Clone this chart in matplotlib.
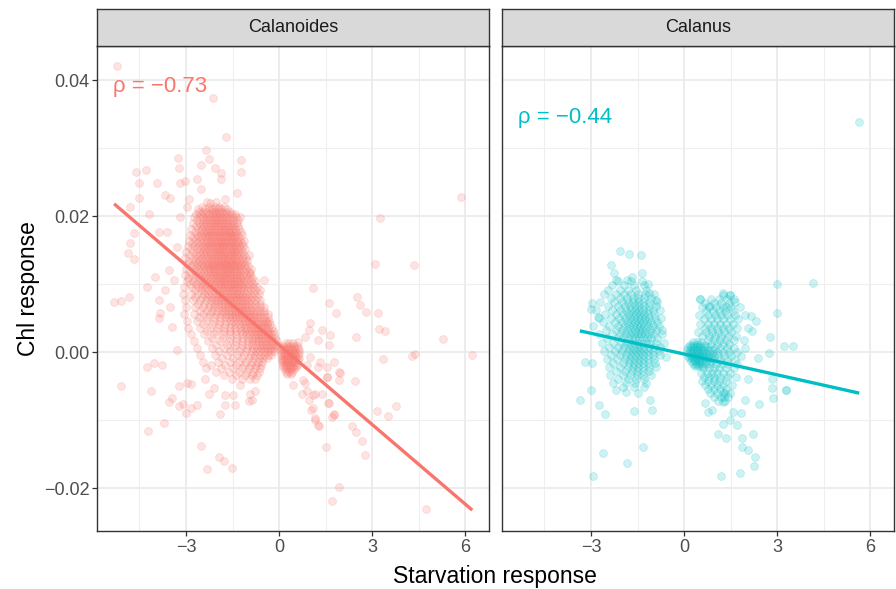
import numpy as np
import matplotlib
matplotlib.use("Agg")
import matplotlib.pyplot as plt

plt.rcParams["font.family"] = ["Liberation Sans", "DejaVu Sans"]

# ---- data: starvation response (x) vs Chl response in units of 1e-3 (y) ----
species = ["Calanoides", "Calanus"]
colors = ["#F8766D", "#00BFC4"]
rho_labels = ["\u03c1 = \u22120.73", "\u03c1 = \u22120.44"]
# linear fit, slope and intercept in Chl units of 1e-3
calanoides_fit = (-3.899, 1.06)
calanus_fit = (-1.017, -0.287)

x_ticks = [-3, 0, 3, 6]
x_ticklabels = ["\u22123", "0", "3", "6"]
y_ticks = [-0.02, 0.0, 0.02, 0.04]
y_ticklabels = ["\u22120.02", "0.00", "0.02", "0.04"]

# Calanoides: scattered single observations (x, chl*1e3)
calanoides_scatter = [
    (-5.23, 42.0), (-2.14, 37.4), (-1.71, 31.6), (-2.35, 29.7), (-3.27, 28.5), (-2.26, 28.4),
    (-2.52, 27.5), (-1.23, 28.2), (-3.24, 27.1), (-2.06, 27.0), (-1.87, 26.4), (-1.23, 26.5),
    (-4.61, 26.5), (-4.30, 26.8), (-4.52, 24.9), (-3.94, 24.8), (-3.19, 24.8), (-3.03, 25.1),
    (-2.65, 25.4), (-1.87, 25.4), (-2.52, 24.0), (-1.35, 23.4), (-3.68, 23.1), (-3.52, 22.6),
    (-4.52, 22.6), (-2.90, 22.5), (-2.32, 22.1), (-2.03, 22.1), (-1.74, 22.5),
    (-4.81, 21.3), (-4.19, 20.3), (-4.68, 17.5), (-4.81, 16.0), (-4.87, 14.5), (-4.68, 13.7),
    (-3.87, 17.6), (-3.61, 17.6), (-4.00, 11.0), (-4.26, 9.6), (-5.32, 7.4), (-5.10, 7.5),
    (-4.84, 8.1), (-3.87, 7.6), (-3.84, 5.7), (-3.87, 5.0), (-4.26, -2.2), (-4.03, -1.6),
    (-3.77, -1.9), (-3.29, 0.3), (-3.45, 3.7), (-3.52, 6.6), (-3.55, 12.1), (-3.39, 10.6),
    (-3.68, 9.1), (-3.29, 15.4), (-3.19, 19.9), (-2.97, 21.3), (-2.23, 21.9), (-1.26, 19.9),
    (-0.48, 10.6), (-0.61, 9.1), (-0.39, 4.4), (-0.94, 11.6),
    (-5.10, -5.0), (-4.13, -5.7), (-4.23, -11.6), (-3.71, -10.4), (-3.55, -7.3), (-3.45, -6.8),
    (-3.23, -7.9), (-3.10, -7.6), (-3.00, -8.9), (-2.84, -8.2), (-2.65, -7.8), (-3.23, -5.0),
    (-2.97, -4.6), (-2.84, -4.7), (-2.39, -4.0), (-2.26, -6.2), (-2.10, -5.3), (-1.90, -9.1),
    (-1.74, -7.8), (-1.74, -6.3), (-1.42, -7.8), (-1.48, -6.3), (-1.26, -4.9), (-0.97, -7.2),
    (-0.87, -7.1), (-0.94, -6.1), (-0.77, -5.7), (-2.52, -13.8), (-1.94, -15.4), (-1.77, -16.0),
    (-2.32, -17.2), (-1.52, -17.0),
    (1.52, -14.0), (1.71, -21.9), (1.94, -19.9), (0.97, -7.1), (1.16, -10.0), (1.29, -10.9),
    (1.03, -8.5), (1.58, -7.5), (1.71, -9.5), (1.77, -9.1), (0.74, -6.1), (1.16, -6.2),
    (1.39, -6.1), (0.84, -4.6), (1.55, -3.7), (1.97, -3.1),
    (1.10, 9.4), (1.61, 7.2), (1.84, 5.7), (2.52, 8.1), (2.61, 6.9), (2.81, 5.9), (3.19, 5.7),
    (3.23, 3.4), (3.42, 3.1), (2.48, 2.2), (5.29, 1.9), (6.23, -0.4), (4.29, -0.6), (4.39, -0.3),
    (3.35, -1.0), (2.45, -4.2), (1.00, 4.3), (0.97, 3.2), (1.65, 2.5), (1.39, 3.2), (1.26, 1.8),
    (1.61, 1.0), (0.84, 2.2), (0.61, 1.5), (1.77, -1.5), (1.94, -2.9), (1.94, -4.1), (1.55, -2.2),
    (1.55, -3.7), (1.32, -1.5), (1.26, -2.2), (1.00, -0.7), (0.90, -1.9), (0.77, -4.1),
    (0.90, -5.7), (1.10, -6.3), (1.10, -8.2), (1.26, -10.7), (1.16, -9.7), (1.61, -7.5),
    (1.77, -9.3), (2.35, -10.9), (2.48, -11.8), (2.68, -13.1), (2.77, -15.1), (3.16, -8.7),
    (3.52, -9.4), (3.77, -7.9), (4.74, -23.1), (0.45, -4.9),
    (3.26, 19.7), (4.35, 12.8), (5.87, 22.8), (3.10, 13.0),
]

# Calanoides: dense main cloud, rows of (chl*1e3, [starvation values])
calanoides_core_rows = [
    (21.4, [-2.47, -2.26, -2.08, -1.93, -1.79]),
    (21.05, [-2.61, -2.39, -2.21, -2.12, -1.98, -1.86, -1.69]),
    (20.6, [-2.58, -2.44, -2.31, -2.17, -2.06, -1.95, -1.83, -1.72, -1.57]),
    (20.25, [-2.69, -2.52, -2.38, -2.27, -2.13, -2.02, -1.91, -1.78, -1.66, -1.53, -1.41]),
    (19.8, [-2.74, -2.57, -2.46, -2.33, -2.22, -2.11, -2.03, -1.94, -1.85, -1.74, -1.63, -1.51, -1.38]),
    (19.4, [-2.63, -2.49, -2.37, -2.28, -2.18, -2.07, -1.99, -1.89, -1.81, -1.71, -1.6, -1.47, -1.33]),
    (18.95, [-2.78, -2.59, -2.44, -2.34, -2.24, -2.14, -2.05, -1.96, -1.87, -1.77, -1.68, -1.58, -1.49, -1.37]),
    (18.55, [-2.68, -2.53, -2.41, -2.3, -2.2, -2.1, -2.01, -1.92, -1.83, -1.73, -1.64, -1.55, -1.44, -1.31]),
    (18.1, [-2.83, -2.62, -2.48, -2.36, -2.26, -2.16, -2.06, -1.97, -1.88, -1.79, -1.7, -1.61, -1.52, -1.42, -1.28]),
    (17.7, [-2.72, -2.56, -2.43, -2.32, -2.22, -2.12, -2.03, -1.93, -1.84, -1.75, -1.66, -1.57, -1.48, -1.38, -1.24]),
    (17.25, [-2.86, -2.66, -2.51, -2.39, -2.29, -2.19, -2.09, -1.99, -1.9, -1.81, -1.72, -1.63, -1.54, -1.45, -1.34, -1.21]),
    (16.85, [-2.76, -2.6, -2.47, -2.35, -2.25, -2.15, -2.05, -1.95, -1.86, -1.77, -1.68, -1.59, -1.5, -1.41, -1.3]),
    (16.4, [-2.91, -2.7, -2.54, -2.42, -2.31, -2.21, -2.11, -2.01, -1.92, -1.83, -1.74, -1.65, -1.56, -1.47, -1.37, -1.25, -1.12]),
    (16.0, [-2.8, -2.63, -2.49, -2.37, -2.27, -2.17, -2.07, -1.97, -1.88, -1.79, -1.7, -1.61, -1.52, -1.43, -1.33, -1.2]),
    (15.55, [-2.95, -2.73, -2.57, -2.45, -2.33, -2.23, -2.13, -2.03, -1.94, -1.85, -1.76, -1.67, -1.58, -1.49, -1.4, -1.29, -1.16]),
    (15.15, [-2.84, -2.66, -2.52, -2.4, -2.28, -2.18, -2.08, -1.98, -1.89, -1.8, -1.71, -1.62, -1.53, -1.44, -1.35, -1.23, -1.09]),
    (14.7, [-2.99, -2.76, -2.59, -2.46, -2.35, -2.24, -2.14, -2.04, -1.95, -1.86, -1.77, -1.68, -1.59, -1.5, -1.41, -1.31, -1.18]),
    (14.3, [-2.87, -2.69, -2.55, -2.43, -2.31, -2.2, -2.1, -2.0, -1.91, -1.82, -1.73, -1.64, -1.55, -1.46, -1.36, -1.26, -1.13, -0.98]),
    (13.85, [-3.02, -2.79, -2.62, -2.48, -2.36, -2.25, -2.15, -2.05, -1.96, -1.87, -1.78, -1.69, -1.6, -1.51, -1.42, -1.32, -1.21, -1.07]),
    (13.45, [-2.9, -2.72, -2.57, -2.44, -2.32, -2.21, -2.11, -2.01, -1.92, -1.83, -1.74, -1.65, -1.56, -1.47, -1.38, -1.28, -1.16, -1.02]),
    (13.0, [-2.97, -2.77, -2.61, -2.49, -2.37, -2.26, -2.16, -2.06, -1.97, -1.88, -1.79, -1.7, -1.61, -1.52, -1.43, -1.33, -1.23, -1.1]),
    (12.6, [-2.85, -2.67, -2.53, -2.41, -2.29, -2.19, -2.09, -1.99, -1.9, -1.81, -1.72, -1.63, -1.54, -1.45, -1.36, -1.26, -1.14, -0.99]),
    (12.15, [-3.0, -2.75, -2.58, -2.45, -2.33, -2.22, -2.12, -2.02, -1.93, -1.84, -1.75, -1.66, -1.57, -1.48, -1.39, -1.29, -1.19, -1.06, -0.92]),
    (11.75, [-2.88, -2.7, -2.55, -2.42, -2.3, -2.19, -2.09, -1.99, -1.9, -1.81, -1.72, -1.63, -1.54, -1.45, -1.35, -1.25, -1.12, -0.97]),
    (11.3, [-3.04, -2.8, -2.62, -2.47, -2.35, -2.24, -2.14, -2.04, -1.94, -1.85, -1.76, -1.67, -1.58, -1.49, -1.4, -1.3, -1.2, -1.08, -0.94]),
    (10.9, [-2.92, -2.72, -2.56, -2.43, -2.31, -2.2, -2.1, -2.0, -1.9, -1.81, -1.72, -1.63, -1.54, -1.45, -1.36, -1.26, -1.15, -1.01, -0.86]),
    (10.45, [-2.98, -2.77, -2.6, -2.46, -2.34, -2.22, -2.11, -2.01, -1.91, -1.82, -1.73, -1.64, -1.55, -1.46, -1.37, -1.27, -1.17, -1.05, -0.91, -0.77]),
    (10.05, [-2.86, -2.68, -2.52, -2.39, -2.27, -2.16, -2.05, -1.95, -1.86, -1.77, -1.68, -1.59, -1.5, -1.41, -1.32, -1.22, -1.11, -0.98, -0.83]),
    (9.6, [-3.06, -2.81, -2.62, -2.47, -2.34, -2.21, -2.09, -1.98, -1.88, -1.78, -1.69, -1.6, -1.51, -1.42, -1.33, -1.23, -1.12, -0.99, -0.85, -0.7]),
    (9.1, [-2.7, -2.52, -2.38, -2.25, -2.12, -2.0, -1.9, -1.8, -1.71, -1.62, -1.53, -1.44, -1.35, -1.26, -1.16, -1.04, -0.9, -0.76]),
    (8.6, [-3.1, -2.83, -2.6, -2.43, -2.29, -2.16, -2.04, -1.93, -1.83, -1.73, -1.64, -1.55, -1.46, -1.37, -1.28, -1.19, -1.08, -0.95, -0.81, -0.64]),
    (8.1, [-2.71, -2.5, -2.33, -2.19, -2.06, -1.95, -1.85, -1.75, -1.66, -1.57, -1.48, -1.39, -1.3, -1.21, -1.11, -0.99, -0.86, -0.71]),
    (7.6, [-3.03, -2.77, -2.55, -2.37, -2.21, -2.08, -1.96, -1.86, -1.76, -1.67, -1.58, -1.49, -1.4, -1.31, -1.22, -1.13, -1.02, -0.9, -0.76, -0.6]),
    (7.1, [-2.62, -2.41, -2.24, -2.09, -1.96, -1.85, -1.75, -1.65, -1.56, -1.47, -1.38, -1.29, -1.2, -1.11, -1.01, -0.9, -0.77, -0.63]),
    (6.6, [-2.99, -2.7, -2.46, -2.27, -2.11, -1.97, -1.85, -1.74, -1.64, -1.54, -1.45, -1.36, -1.27, -1.18, -1.09, -0.99, -0.88, -0.75, -0.6, -0.47]),
    (6.1, [-2.55, -2.33, -2.15, -1.99, -1.85, -1.73, -1.62, -1.52, -1.42, -1.33, -1.24, -1.15, -1.06, -0.96, -0.86, -0.74, -0.61, -0.48]),
    (5.6, [-3.08, -2.74, -2.46, -2.23, -2.04, -1.88, -1.74, -1.62, -1.51, -1.41, -1.31, -1.22, -1.13, -1.04, -0.95, -0.85, -0.74, -0.62, -0.49, -0.37]),
    (5.1, [-2.58, -2.31, -2.09, -1.91, -1.75, -1.61, -1.49, -1.38, -1.28, -1.18, -1.09, -1.0, -0.91, -0.82, -0.72, -0.61, -0.49, -0.36]),
    (4.6, [-2.97, -2.63, -2.34, -2.1, -1.9, -1.72, -1.57, -1.44, -1.32, -1.21, -1.11, -1.01, -0.92, -0.83, -0.74, -0.65, -0.55, -0.44, -0.32]),
    (4.1, [-2.44, -2.16, -1.93, -1.73, -1.56, -1.41, -1.28, -1.16, -1.05, -0.95, -0.86, -0.77, -0.68, -0.59, -0.5, -0.4, -0.29]),
    (3.6, [-2.92, -2.55, -2.24, -1.98, -1.76, -1.57, -1.41, -1.27, -1.14, -1.02, -0.91, -0.81, -0.72, -0.63, -0.54, -0.45, -0.35, -0.24]),
    (3.1, [-2.31, -2.02, -1.78, -1.57, -1.39, -1.23, -1.09, -0.97, -0.86, -0.76, -0.67, -0.58, -0.49, -0.4, -0.31, -0.21]),
    (2.6, [-2.84, -2.43, -2.09, -1.81, -1.58, -1.38, -1.21, -1.06, -0.93, -0.82, -0.72, -0.63, -0.54, -0.45, -0.36, -0.27, -0.17]),
    (2.1, [-2.15, -1.83, -1.57, -1.35, -1.17, -1.01, -0.88, -0.77, -0.67, -0.58, -0.49, -0.4, -0.31, -0.22, -0.12]),
    (1.6, [-2.73, -2.28, -1.92, -1.62, -1.38, -1.18, -1.01, -0.87, -0.75, -0.64, -0.54, -0.45, -0.36, -0.27, -0.18, -0.08]),
    (1.1, [-2.03, -1.68, -1.41, -1.19, -1.01, -0.86, -0.73, -0.62, -0.52, -0.42, -0.33, -0.24, -0.14, -0.04]),
    (0.6, [-2.64, -2.16, -1.77, -1.47, -1.22, -1.02, -0.85, -0.71, -0.59, -0.48, -0.38, -0.28, -0.18, -0.08]),
    (0.1, [-1.93, -1.57, -1.29, -1.06, -0.88, -0.73, -0.6, -0.48, -0.37, -0.26, -0.15]),
    (-0.4, [-2.55, -2.06, -1.68, -1.37, -1.12, -0.92, -0.76, -0.62, -0.49, -0.37, -0.25]),
    (-0.9, [-1.83, -1.48, -1.2, -0.98, -0.8, -0.65, -0.51, -0.38]),
    (-1.4, [-2.46, -1.97, -1.59, -1.29, -1.05, -0.86, -0.69, -0.54]),
    (-1.9, [-2.18, -1.74, -1.4, -1.13, -0.92, -0.74, -0.58]),
    (-2.4, [-2.34, -1.86, -1.5, -1.21, -0.98, -0.79, -0.62]),
    (-2.9, [-2.02, -1.6, -1.28, -1.03, -0.83, -0.66]),
    (-3.4, [-1.76, -1.38, -1.1, -0.88, -0.7]),
    (-3.9, [-1.52, -1.19, -0.95, -0.76]),
]

# Calanoides: tight patch just right of zero
calanoides_patch_rows = [
    (1.3, [0.22, 0.33, 0.44]),
    (0.95, [0.14, 0.25, 0.36, 0.47, 0.59]),
    (0.6, [0.09, 0.19, 0.29, 0.39, 0.49, 0.6]),
    (0.25, [0.07, 0.16, 0.25, 0.34, 0.43, 0.52, 0.63]),
    (-0.1, [0.08, 0.17, 0.26, 0.35, 0.44, 0.53, 0.64]),
    (-0.45, [0.07, 0.16, 0.25, 0.34, 0.43, 0.52, 0.62]),
    (-0.8, [0.09, 0.18, 0.27, 0.36, 0.45, 0.54, 0.65]),
    (-1.15, [0.08, 0.17, 0.26, 0.35, 0.44, 0.53, 0.62]),
    (-1.5, [0.1, 0.19, 0.28, 0.37, 0.46, 0.56]),
    (-1.85, [0.12, 0.21, 0.3, 0.39, 0.48, 0.58]),
    (-2.2, [0.14, 0.24, 0.34, 0.44, 0.54]),
    (-2.55, [0.18, 0.28, 0.38, 0.48]),
    (-2.9, [0.22, 0.32, 0.42]),
    (-3.25, [0.27, 0.37]),
]

# Calanus: scattered single observations
calanus_scatter = [
    (5.65, 33.8), (4.17, 10.1), (2.99, 10.0), (2.99, 5.8),
    (-2.07, 14.9), (-1.77, 14.4), (-1.40, 14.3), (-2.37, 12.8), (-2.26, 11.7), (-2.20, 10.6),
    (-1.37, 11.7), (-1.85, 10.6), (-1.69, 11.0), (-1.17, 10.0), (-2.97, 7.2), (-3.01, 6.3),
    (-2.77, 5.2), (-3.19, -1.4), (-2.97, -1.6), (-3.36, -7.1), (-3.01, -5.6), (-2.74, -7.8),
    (-2.55, -9.1), (-2.61, -14.9), (-1.85, -16.3), (-2.94, -18.2), (-1.32, -13.9), (-1.60, -8.6),
    (-1.02, -8.5), (-1.10, -7.1), (-2.20, -5.6), (-1.88, -5.8), (-1.47, -6.0), (-0.71, 3.2),
    (-0.59, -0.7), (-0.90, 7.6), (-1.13, 8.7),
    (0.52, 7.8), (1.26, 8.7), (1.48, 8.4), (1.63, 7.3), (0.81, 6.8), (1.34, 6.6), (2.15, 5.3),
    (2.31, 4.5), (2.19, 3.1), (2.77, 2.2), (3.23, 0.9), (3.52, 0.9), (2.74, -0.1), (2.40, -0.8),
    (2.83, -4.0), (3.30, -5.6), (2.87, -6.8), (2.42, -7.6), (2.07, -4.0), (1.96, -7.1),
    (1.88, -12.7), (2.23, -12.0), (2.07, -14.4), (1.86, -14.0), (2.29, -15.4), (2.26, -16.7),
    (1.81, -17.8), (1.18, -18.2), (1.34, -12.7), (1.11, -12.0), (1.48, -10.0), (1.24, -10.5),
    (1.72, -10.7), (0.77, -8.8), (0.67, -7.5), (0.91, -8.5), (1.24, -7.3), (1.59, -8.8),
    (1.83, -9.0), (2.85, -5.3), (3.28, -5.5),
]

# Calanus: cloud left of zero
calanus_core_rows = [
    (10.4, [-2.12, -1.71, -1.36]),
    (9.8, [-2.31, -1.95, -1.62, -1.29]),
    (9.2, [-2.44, -2.08, -1.82, -1.55, -1.22]),
    (8.6, [-2.58, -2.2, -1.93, -1.71, -1.49, -1.25, -0.98]),
    (8.0, [-2.36, -2.05, -1.84, -1.66, -1.48, -1.3, -1.06]),
    (7.4, [-2.7, -2.27, -2.0, -1.8, -1.63, -1.47, -1.31, -1.13, -0.88]),
    (6.8, [-2.46, -2.12, -1.9, -1.73, -1.58, -1.44, -1.29, -1.12, -0.92]),
    (6.2, [-2.83, -2.33, -2.05, -1.86, -1.71, -1.57, -1.44, -1.31, -1.17, -1.0, -0.78]),
    (5.6, [-2.56, -2.2, -1.98, -1.81, -1.67, -1.54, -1.42, -1.29, -1.15, -0.97]),
    (5.0, [-2.75, -2.35, -2.09, -1.9, -1.75, -1.62, -1.5, -1.38, -1.26, -1.12, -0.95, -0.74]),
    (4.4, [-2.6, -2.24, -2.01, -1.84, -1.7, -1.57, -1.45, -1.33, -1.2, -1.05, -0.86]),
    (3.8, [-2.92, -2.42, -2.13, -1.93, -1.78, -1.65, -1.53, -1.41, -1.29, -1.16, -1.01, -0.81]),
    (3.2, [-2.51, -2.2, -1.99, -1.83, -1.7, -1.58, -1.46, -1.34, -1.22, -1.08, -0.9]),
    (2.6, [-2.74, -2.33, -2.07, -1.89, -1.75, -1.62, -1.5, -1.38, -1.26, -1.13, -0.97, -0.72]),
    (2.0, [-2.47, -2.17, -1.97, -1.82, -1.69, -1.57, -1.45, -1.33, -1.2, -1.05, -0.86]),
    (1.4, [-2.65, -2.28, -2.04, -1.87, -1.73, -1.6, -1.48, -1.36, -1.23, -1.09, -0.92, -0.66]),
    (0.8, [-2.41, -2.13, -1.94, -1.79, -1.66, -1.53, -1.41, -1.28, -1.14, -0.98, -0.78]),
    (0.2, [-2.58, -2.22, -1.99, -1.82, -1.68, -1.55, -1.42, -1.29, -1.15, -0.99, -0.8]),
    (-0.4, [-2.37, -2.07, -1.87, -1.72, -1.58, -1.45, -1.31, -1.16, -0.99, -0.79]),
    (-1.0, [-2.5, -2.15, -1.92, -1.75, -1.6, -1.46, -1.31, -1.15, -0.96]),
    (-1.6, [-2.28, -1.98, -1.78, -1.62, -1.47, -1.32, -1.15, -0.95]),
    (-2.2, [-2.43, -2.05, -1.82, -1.64, -1.48, -1.31, -1.12, -0.9]),
    (-2.8, [-2.2, -1.9, -1.69, -1.51, -1.33, -1.13]),
    (-3.4, [-2.38, -1.98, -1.73, -1.52, -1.31, -1.06]),
    (-4.0, [-2.12, -1.8, -1.55, -1.3]),
    (-4.6, [-2.3, -1.87, -1.57, -1.22]),
    (-5.2, [-1.98, -1.6, -1.28]),
]

# Calanus: dense patch right of zero
calanus_patch_rows = [
    (1.5, [0.28, 0.42, 0.56]),
    (1.1, [0.18, 0.3, 0.41, 0.53, 0.66]),
    (0.7, [0.12, 0.22, 0.32, 0.42, 0.52, 0.63, 0.76]),
    (0.3, [0.1, 0.19, 0.28, 0.37, 0.46, 0.55, 0.65, 0.77, 0.9]),
    (-0.1, [0.12, 0.21, 0.3, 0.39, 0.48, 0.57, 0.67, 0.79, 0.93]),
    (-0.5, [0.14, 0.23, 0.32, 0.41, 0.5, 0.59, 0.69, 0.81, 0.96]),
    (-0.9, [0.17, 0.26, 0.35, 0.44, 0.53, 0.63, 0.74, 0.87]),
    (-1.3, [0.22, 0.31, 0.4, 0.49, 0.59, 0.7, 0.83]),
    (-1.7, [0.28, 0.38, 0.48, 0.58, 0.7]),
    (-2.1, [0.35, 0.46, 0.58]),
]

# Calanus: looser cloud around that patch
calanus_cloud_rows = [
    (8.4, [1.24, 1.49]),
    (7.8, [0.52, 0.88, 1.13, 1.37, 1.62]),
    (7.2, [0.68, 0.97, 1.2, 1.44]),
    (6.6, [0.57, 0.82, 1.04, 1.25, 1.5, 1.79]),
    (6.0, [0.72, 0.93, 1.12, 1.33, 1.58]),
    (5.4, [0.49, 0.78, 0.99, 1.18, 1.38, 1.63, 1.95]),
    (4.8, [0.64, 0.87, 1.06, 1.25, 1.47, 1.74]),
    (4.2, [0.53, 0.78, 0.97, 1.15, 1.34, 1.57]),
    (3.6, [0.67, 0.88, 1.06, 1.24, 1.45, 1.71, 2.05]),
    (3.0, [0.44, 0.7, 0.91, 1.09, 1.28, 1.5]),
    (2.4, [0.58, 0.81, 1.0, 1.19, 1.41, 1.68]),
    (1.8, [0.78, 0.97, 1.15, 1.35, 1.6, 1.93]),
    (1.2, [0.86, 1.05, 1.24, 1.46]),
    (0.6, [0.99, 1.17, 1.37, 1.62, 1.98]),
    (0.0, [1.06, 1.25, 1.46, 1.72]),
    (-0.6, [1.09, 1.29, 1.52, 1.85]),
    (-1.2, [0.98, 1.17, 1.38, 1.64]),
    (-1.8, [0.85, 1.03, 1.21, 1.43, 1.72]),
    (-2.4, [0.62, 0.8, 0.97, 1.14, 1.34, 1.6]),
    (-3.0, [0.55, 0.74, 0.91, 1.07, 1.25, 1.47]),
    (-3.6, [0.63, 0.81, 0.98, 1.16, 1.38, 1.69]),
    (-4.2, [0.58, 0.78, 0.96, 1.14, 1.35]),
    (-4.8, [0.69, 0.88, 1.06, 1.27, 1.55]),
    (-5.4, [0.77, 0.97, 1.16, 1.36]),
    (-6.0, [0.85, 1.06, 1.25, 1.33, 1.48]),
    (-6.6, [0.95, 1.18, 1.3, 1.41]),
    (-7.2, [1.1, 1.32]),
]


def gather(scatter, *row_groups):
    xs = [p[0] for p in scatter]
    ys = [p[1] for p in scatter]
    for rows in row_groups:
        for y, row in rows:
            xs += row
            ys += [y] * len(row)
    return np.array(xs), np.array(ys) * 1e-3


panels = [
    gather(calanoides_scatter, calanoides_core_rows, calanoides_patch_rows),
    gather(calanus_scatter, calanus_core_rows, calanus_patch_rows, calanus_cloud_rows),
]
fits = [calanoides_fit, calanus_fit]
label_y = [0.039, 0.0345]

fig = plt.figure(figsize=(8.96, 5.89), dpi=100)
W, H = 896, 589
ax_left = [97, 502]
ax_w = 392
ax_top, ax_bot = 46, 531
strip_top = 9

for i in range(2):
    ax = fig.add_axes([ax_left[i] / W, 1 - ax_bot / H, ax_w / W, (ax_bot - ax_top) / H])
    x, y = panels[i]
    ax.scatter(x, y, s=32, color=colors[i], alpha=0.2, linewidths=0.6,
               edgecolors=colors[i], zorder=2)
    slope, icpt = fits[i]
    xr = np.array([x.min(), x.max()])
    ax.plot(xr, (slope * xr + icpt) * 1e-3, color=colors[i], lw=2.4, zorder=3,
            solid_capstyle="butt")
    ax.text(-5.35, label_y[i], rho_labels[i], color=colors[i], fontsize=16,
            ha="left", va="center", zorder=4)

    ax.set_xlim(-5.87, 6.77)
    ax.set_ylim(-0.0263, 0.0450)
    ax.set_xticks(x_ticks)
    ax.set_xticklabels(x_ticklabels)
    ax.set_xticks([-4.5, -1.5, 1.5, 4.5], minor=True)
    ax.set_yticks(y_ticks)
    ax.set_yticks([-0.01, 0.01, 0.03], minor=True)
    if i == 0:
        ax.set_yticklabels(y_ticklabels)
    else:
        ax.tick_params(axis="y", which="both", left=False, labelleft=False)
    ax.grid(which="major", color="#EBEBEB", lw=1.3, zorder=0)
    ax.grid(which="minor", color="#EFEFEF", lw=0.8, zorder=0)
    ax.set_axisbelow(True)
    ax.tick_params(which="major", length=3.5, width=0.9, color="#333333",
                   labelsize=13, labelcolor="#4D4D4D", pad=2)
    ax.tick_params(which="minor", length=0)
    for sp in ax.spines.values():
        sp.set_color("#333333")
        sp.set_linewidth(1.0)

    sax = fig.add_axes([ax_left[i] / W, 1 - ax_top / H, ax_w / W, (ax_top - strip_top) / H])
    sax.set_facecolor("#D9D9D9")
    sax.set_xticks([])
    sax.set_yticks([])
    for sp in sax.spines.values():
        sp.set_color("#333333")
        sp.set_linewidth(1.0)
    sax.text(0.5, 0.5, species[i], ha="center", va="center", fontsize=13,
             color="#1A1A1A", transform=sax.transAxes)

fig.text(495 / W, 1 - 577 / H, "Starvation response", ha="center", va="center", fontsize=16.5)
fig.text(28 / W, 1 - 289 / H, "Chl response", ha="center", va="center", fontsize=16.5,
         rotation=90)

fig.savefig("out.png", dpi=100)
